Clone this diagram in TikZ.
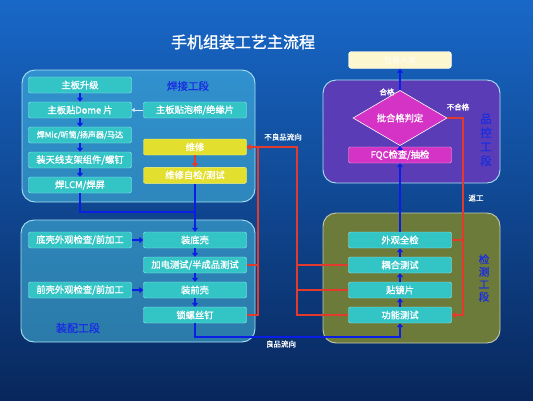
\documentclass[tikz,border=0pt]{standalone}
\usepackage{fontspec}
\setmainfont{Noto Sans CJK SC}
\newfontfamily\heavy[FakeBold=1.2]{Noto Sans CJK SC}
\usepackage{xcolor}
\usetikzlibrary{shapes.geometric, arrows.meta, positioning, calc, backgrounds}
\definecolor{bgtop}{HTML}{1868C8}
\definecolor{bgmid}{HTML}{0F4C9E}
\definecolor{bgbot}{HTML}{08275C}
\definecolor{zonecyan}{HTML}{4CC6E8}
\definecolor{zoneedge}{HTML}{A8E2F2}
\definecolor{stepcyan}{HTML}{33C4C6}
\definecolor{stepedge}{HTML}{9CF0F0}
\definecolor{repairyel}{HTML}{E2DF2E}
\definecolor{qczone}{HTML}{5A3DB6}
\definecolor{qcmagenta}{HTML}{D433C6}
\definecolor{testzone}{HTML}{6C7A3A}
\definecolor{flowblue}{HTML}{0B1EE6}
\definecolor{flowred}{HTML}{E23A2C}
\definecolor{labelblue}{HTML}{1A2EE0}
\definecolor{storecream}{HTML}{FCF7CE}
\tikzset{
  zonebox/.style={
    draw=zoneedge, line width=0.9pt, rounded corners=13pt
  },
  flowstep/.style={
    rectangle, draw=stepedge, fill=stepcyan, rounded corners=2pt,
    minimum width=103pt, minimum height=16pt, inner sep=0pt,
    text=white, font=\heavy\fontsize{9.3}{10}\selectfont
  },
  repairstep/.style={
    flowstep, fill=repairyel, draw=yellow!50
  },
  qcstep/.style={
    flowstep, fill=qcmagenta, draw=magenta!30
  },
  qcjudge/.style={
    diamond, draw=white, fill=qcmagenta, line width=0.6pt, inner sep=0pt,
    minimum width=94pt, minimum height=32pt, text=white,
    font=\heavy\fontsize{9.3}{10}\selectfont
  },
  storebox/.style={
    rectangle, draw=white, fill=storecream, rounded corners=3pt,
    minimum width=103pt, minimum height=17pt, text=white!90!storecream,
    font=\fontsize{8}{9}\selectfont
  },
  zonelabel/.style={
    text=labelblue, align=center, font=\heavy\fontsize{10.5}{12.5}\selectfont
  },
  flownote/.style={
    text=white, font=\heavy\fontsize{7.5}{8}\selectfont
  },
  flowarrow/.style={
    draw=flowblue, line width=2.2pt, -{Triangle[length=4pt, width=6pt]}
  },
  bluewire/.style={
    draw=flowblue, line width=2.2pt
  },
  redwire/.style={
    draw=flowred, line width=2.2pt
  },
  redarrow/.style={
    redwire, -{Triangle[length=4pt, width=6pt]}
  }
}
\begin{document}
\begin{tikzpicture}[x=1pt, y=-1pt, node distance=25pt]
  % background
  \useasboundingbox (0,0) rectangle (533,400);
  \shade[top color=bgtop, middle color=bgmid, bottom color=bgbot] (0,0) rectangle (533,400);

  \node[text=white, font=\heavy\fontsize{16}{18}\selectfont] (title) at (243,42) {手机组装工艺主流程};

  % zones
  \draw[zonebox, fill=zonecyan, fill opacity=0.5] (22,70) rectangle (255,202);
  \draw[zonebox, fill=zonecyan, fill opacity=0.5] (21,220) rectangle (255,342);
  \draw[zonebox, fill=qczone] (323,80) rectangle (500,183);
  \draw[zonebox, fill=testzone, draw=testzone!40!white] (323,213) rectangle (500,343);

  % welding
  \node[flowstep] (upgrade) at (80,85) {主板升级};
  \node[flowstep, below of=upgrade] (dome) {主板贴Dome 片};
  \node[flowstep, below of=dome, font=\heavy\fontsize{8}{9}\selectfont] (mic) {焊Mic/听筒/扬声器/马达};
  \node[flowstep, below of=mic] (antenna) {装天线支架组件/螺钉};
  \node[flowstep, below of=antenna] (lcm) {焊LCM/焊屏};
  \node[flowstep] (foam) at (195,110) {主板贴泡棉/绝缘片};
  \node[repairstep] (repair) at (195,147) {维修};
  \node[repairstep, below=12pt of repair] (recheck) {维修自检/测试};
  \node[zonelabel] (weldlabel) at (188,86) {焊接工段};

  % assembly
  \node[flowstep] (backcheck) at (80,240) {底壳外观检查/前加工};
  \node[flowstep] (backshell) at (195,240) {装底壳};
  \node[flowstep, below of=backshell] (powertest) {加电测试/半成品测试};
  \node[flowstep, below of=powertest] (frontshell) {装前壳};
  \node[flowstep, below of=frontshell] (screws) {锁螺丝钉};
  \node[flowstep] (frontcheck) at (80,290) {前壳外观检查/前加工};
  \node[zonelabel, font=\heavy\fontsize{11}{12}\selectfont] (asmlabel) at (78,328) {装配工段};

  % testing
  \node[flowstep] (function) at (400,315) {功能测试};
  \node[flowstep, above of=function] (lens) {贴镜片};
  \node[flowstep, above of=lens] (coupling) {耦合测试};
  \node[flowstep, above of=coupling] (appearance) {外观全检};
  \node[zonelabel] (testlabel) at (484,278) {检\\测\\工\\段};

  % quality control
  \node[qcstep] (fqc) at (400,155) {FQC检查/抽检};
  \node[qcjudge] (judge) at (400,118) {批合格判定};
  \node[storebox] (store) at (400,60) {包装入库};
  \node[zonelabel, font=\heavy\fontsize{11.5}{14}\selectfont] (qclabel) at (486,140) {品\\控\\工\\段};

  \node[flownote] (passnote) at (387,92) {合格};
  \node[flownote] (failnote) at (458,107) {不合格};
  \node[flownote] (reworknote) at (476,198) {返工};
  \node[flownote] (defectnote) at (283,137) {不良品流向};
  \node[flownote] (goodnote) at (281,344) {良品流向};

  % blue flow
  \draw[flowarrow] (upgrade) -- (dome);
  \draw[flowarrow] (dome) -- (mic);
  \draw[flowarrow] (mic) -- (antenna);
  \draw[flowarrow] (antenna) -- (lcm);
  \draw[-{Triangle[length=3pt, width=4pt]}, white!85!cyan, line width=0.8pt] (foam) -- (dome);
  \coordinate (joint) at (195,212);
  \draw[bluewire] (lcm.south) |- (joint);
  \draw[flowarrow] (recheck) -- (backshell);
  \draw[flowarrow] (backcheck) -- (backshell);
  \draw[flowarrow] (frontcheck) -- (frontshell);
  \draw[flowarrow] (backshell) -- (powertest);
  \draw[flowarrow] (powertest) -- (frontshell);
  \draw[flowarrow] (frontshell) -- (screws);
  \draw[flowarrow] (screws.south) -- ++(0,14) -| (function.south);
  \draw[flowarrow] (function) -- (lens);
  \draw[flowarrow] (lens) -- (coupling);
  \draw[flowarrow] (coupling) -- (appearance);
  \draw[flowarrow] (appearance) -- (fqc);
  \draw[flowarrow] (fqc) -- (judge);
  \draw[flowarrow] (judge) -- (store);

  % red flow
  \draw[redarrow] (repair) -- (recheck);
  \draw[redwire] (powertest.east) -- ++(11,0);
  \draw[redarrow] (screws.east) -- ++(11,0) |- (repair.east);
  \draw[redarrow] (function.west) -- ++(-51,0) |- (repair.east);
  \draw[redwire] (coupling.west) -- ++(-51,0);
  \draw[redwire] (lens.west) -- ++(-51,0);
  \draw[redarrow] (judge.east) -- ++(16,0) |- (function.east);
  \draw[redwire] (appearance.east) -- ++(11.5,0);
\end{tikzpicture}
\end{document}
